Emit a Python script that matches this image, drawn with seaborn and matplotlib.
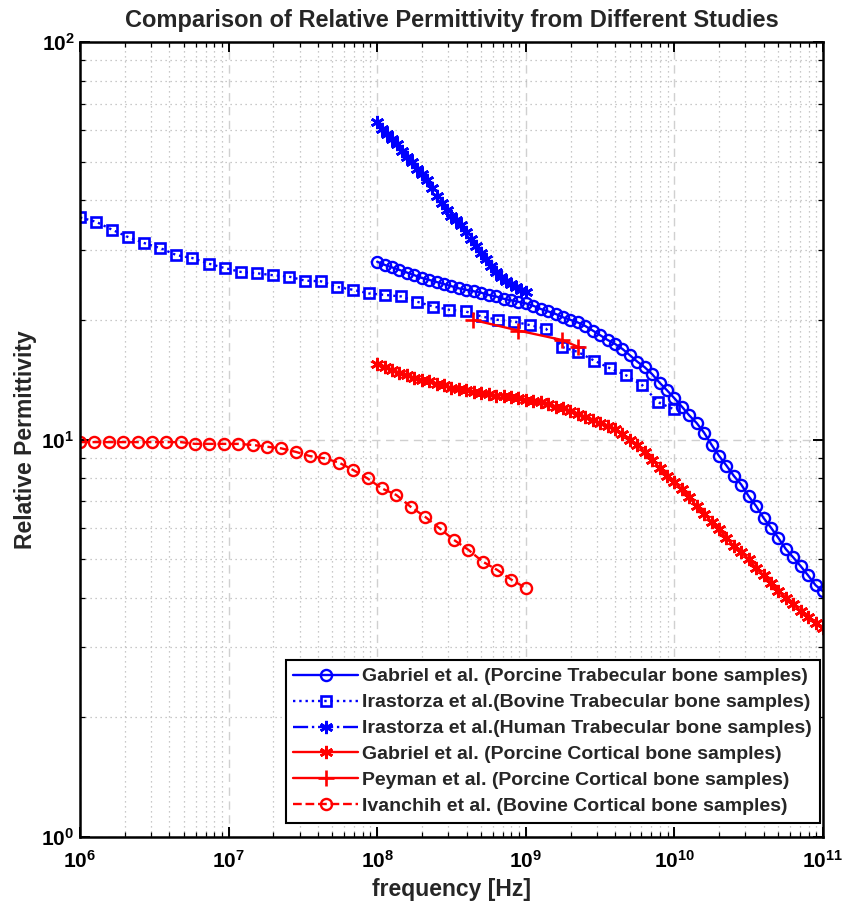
import numpy as np
import matplotlib
matplotlib.use("Agg")
import matplotlib.pyplot as plt
import seaborn as sns

# ---------------- data ----------------
# Gabriel et al. porcine trabecular (1e8 .. 1e11)
f_gab = np.logspace(8, 11, 61)
eps_gab_trab = [28.0, 27.5, 27.1, 26.7, 26.3, 25.9, 25.5, 25.2, 24.9, 24.6,
                24.3, 24.0, 23.8, 23.6, 23.4, 23.1, 22.9, 22.6, 22.4, 22.2,
                22.0, 21.7, 21.3, 21.0, 20.7, 20.3, 20.0, 19.7, 19.3, 18.8,
                18.3, 17.8, 17.4, 16.9, 16.3, 15.7, 15.2, 14.6, 13.9, 13.3,
                12.7, 12.1, 11.5, 11.0, 10.4, 9.7, 9.1, 8.6, 8.1, 7.7,
                7.2, 6.8, 6.35, 6.0, 5.65, 5.3, 5.05, 4.8, 4.55, 4.3, 4.15]
# Gabriel et al. porcine cortical
eps_gab_cort = [15.5, 15.2, 15.0, 14.7, 14.5, 14.3, 14.1, 14.0, 13.8, 13.7,
                13.5, 13.4, 13.3, 13.2, 13.1, 13.0, 12.9, 12.9, 12.8, 12.7,
                12.6, 12.5, 12.4, 12.3, 12.1, 12.0, 11.8, 11.6, 11.4, 11.2,
                11.0, 10.8, 10.6, 10.3, 10.0, 9.7, 9.3, 8.9, 8.5, 8.1,
                7.8, 7.5, 7.15, 6.8, 6.5, 6.2, 5.95, 5.65, 5.4, 5.2,
                5.0, 4.75, 4.55, 4.35, 4.15, 4.0, 3.85, 3.7, 3.58, 3.46, 3.35]
# Irastorza et al. bovine trabecular (1e6 .. 1e10)
f_ira_bov = np.logspace(6, 10, 38)
eps_ira_bov = [36.2, 35.3, 33.7, 32.3, 31.2, 30.3, 29.1, 28.6, 27.7, 27.0,
               26.4, 26.2, 25.9, 25.7, 25.1, 25.0, 24.2, 23.8, 23.3, 23.1,
               22.9, 22.2, 21.6, 21.2, 21.0, 20.4, 20.0, 19.8, 19.4, 19.0,
               17.1, 16.6, 15.8, 15.1, 14.5, 13.7, 12.4, 11.9]
# Irastorza et al. human trabecular (1e8 .. 1e9)
f_ira_hum = np.logspace(8, 9, 31)
eps_ira_hum = [63.0, 60.5, 58.8, 57.0, 55.3, 53.3, 51.5, 49.8, 48.0, 46.5,
               45.0, 43.0, 41.0, 39.3, 37.8, 36.6, 35.6, 34.6, 33.3, 31.9,
               30.7, 29.5, 28.4, 27.3, 26.4, 25.7, 25.1, 24.6, 24.2, 23.8, 23.5]
# Peyman et al. porcine cortical
f_pey = [4.4e8, 8.9e8, 1.75e9, 2.25e9]
eps_pey = [20.0, 18.8, 17.8, 17.1]
# Ivanchih et al. bovine cortical (1e6 .. 1e9)
f_iva = np.logspace(6, 9, 32)
eps_iva = [9.85, 9.85, 9.85, 9.85, 9.85, 9.85, 9.85, 9.85, 9.75, 9.75,
           9.75, 9.75, 9.69, 9.59, 9.50, 9.31, 9.08, 8.97, 8.75, 8.38,
           7.98, 7.53, 7.25, 6.77, 6.39, 5.98, 5.59, 5.28, 4.93, 4.70,
           4.44, 4.23]

labels = ["Gabriel et al. (Porcine Trabecular bone samples)",
          "Irastorza et al.(Bovine Trabecular bone samples)",
          "Irastorza et al.(Human Trabecular bone samples)",
          "Gabriel et al. (Porcine Cortical bone samples)",
          "Peyman et al. (Porcine Cortical bone samples)",
          "Ivanchih et al. (Bovine Cortical bone samples)"]
x_ticks = [1e6, 1e7, 1e8, 1e9, 1e10, 1e11]
x_ticklabels = ["$10^{6}$", "$10^{7}$", "$10^{8}$", "$10^{9}$", "$10^{10}$", "$10^{11}$"]
y_ticks = [1, 10, 100]
y_ticklabels = ["$10^{0}$", "$10^{1}$", "$10^{2}$"]

# ---------------- style ----------------
sns.set_style("ticks")
plt.rcParams["font.family"] = ["Liberation Sans", "DejaVu Sans"]
plt.rcParams["font.weight"] = "bold"
plt.rcParams["mathtext.fontset"] = "custom"
plt.rcParams["mathtext.rm"] = "Liberation Sans:bold"
plt.rcParams["mathtext.bf"] = "Liberation Sans:bold"
plt.rcParams["mathtext.it"] = "Liberation Sans:bold"
plt.rcParams["mathtext.default"] = "rm"

W, H = 843, 908
fig = plt.figure(figsize=(W / 100, H / 100), dpi=100)
ax = fig.add_axes([80 / W, 1 - 837 / H, (823 - 80) / W, (837 - 42) / H])

BLUE = (0, 0, 1)
RED = (1, 0, 0)
asterisk = (6, 2, 0)

series = [
    (f_gab, eps_gab_trab, BLUE, "-", "o", 8.0, 1.7, labels[0]),
    (f_ira_bov, eps_ira_bov, BLUE, ":", "s", 6.8, 1.9, labels[1]),
    (f_ira_hum, eps_ira_hum, BLUE, "-.", asterisk, 9.5, 1.9, labels[2]),
    (f_gab, eps_gab_cort, RED, "-", asterisk, 9.5, 1.9, labels[3]),
    (f_pey, eps_pey, RED, "-", "+", 11.0, 1.9, labels[4]),
    (f_iva, eps_iva, RED, "--", "o", 8.0, 1.7, labels[5]),
]
for fx, ey, col, ls, mk, ms, mew, lab in series:
    sns.lineplot(x=list(fx), y=list(ey), ax=ax, color=col, linestyle=ls,
                 marker=mk, markersize=ms, markerfacecolor="none",
                 markeredgecolor=col, markeredgewidth=mew, linewidth=1.7,
                 label=lab, sort=False, estimator=None)

ax.set_xscale("log")
ax.set_yscale("log")
ax.set_xlim(1e6, 1e11)
ax.set_ylim(1, 100)
ax.set_xticks(x_ticks)
ax.set_xticklabels(x_ticklabels)
ax.set_yticks(y_ticks)
ax.set_yticklabels(y_ticklabels)

ax.grid(which="major", linestyle=(0, (6, 4)), color="#d0d0d0", linewidth=1.0)
ax.grid(which="minor", linestyle=(0, (1, 3)), color="#b8b8b8", linewidth=0.9)
ax.set_axisbelow(True)

for s in ax.spines.values():
    s.set_visible(True)
    s.set_linewidth(1.8)
    s.set_color("black")
ax.tick_params(which="both", direction="in", top=True, right=True,
               labelsize=15, colors="black")
ax.tick_params(which="major", length=7, width=1.4)
ax.tick_params(which="minor", length=3.5, width=0.9)
ax.tick_params(axis="x", pad=9)
ax.tick_params(axis="y", pad=4)

ax.set_title("Comparison of Relative Permittivity from Different Studies",
             fontsize=17, fontweight="bold", pad=11)
ax.set_xlabel("frequency [Hz]", fontsize=16.5, fontweight="bold", labelpad=5)
ax.set_ylabel("Relative Permittivity", fontsize=16.5, fontweight="bold", labelpad=3)

leg = ax.legend(loc="lower right", bbox_to_anchor=(1 - 3 / 743, 14 / 795),
                borderaxespad=0, fontsize=14, frameon=True, fancybox=False,
                framealpha=1, edgecolor="black", handlelength=3.3,
                labelspacing=0.43, handletextpad=0.25, borderpad=0.4)
leg.get_frame().set_linewidth(1.5)

fig.savefig("out.png", dpi=100)
